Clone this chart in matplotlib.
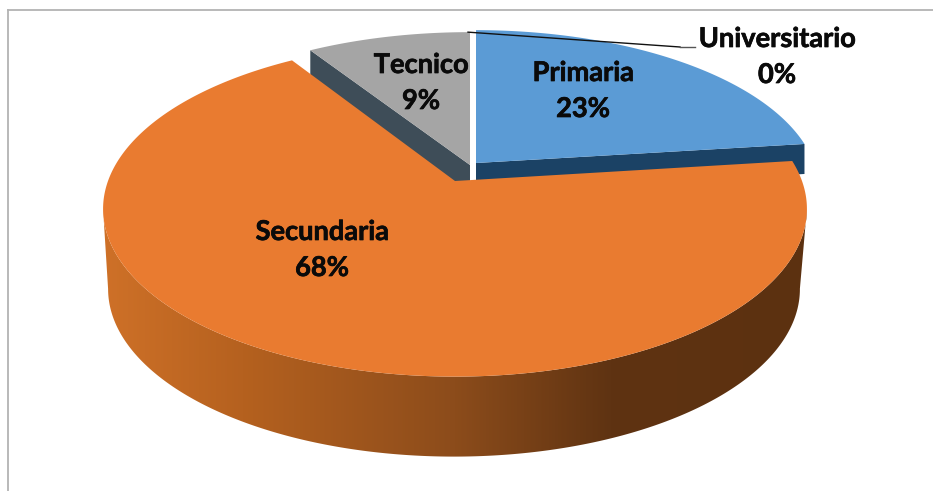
import numpy as np
import matplotlib
matplotlib.use("Agg")
import matplotlib.pyplot as plt
import matplotlib.patheffects as pe
from matplotlib.patches import Polygon
from matplotlib.colors import LinearSegmentedColormap

categories = ["Primaria", "Secundaria", "Tecnico", "Universitario"]
values = [23, 68, 9, 0]
percent_labels = [f"{v}%" for v in values]
colors = ["#5b9bd5", "#e97b30", "#a5a5a5", "#4472c4"]
cut_colors = ["#1b4265", "#6b3a14", "#3e4d58", "#1b4265"]

# projected geometry of each exploded slice: apex x, apex y, x radius, y radius
slice_geom = [(476, 163, 338, 155), (455, 181, 347, 163), (470, 165, 340, 155), (470, 165, 340, 155)]
PERSP = 1 / 6
DEPTH = 80

plt.rcParams["font.family"] = ["Lato", "DejaVu Sans"]
fig = plt.figure(figsize=(9.33, 4.91), dpi=100)
ax = fig.add_axes([0, 0, 1, 1])
ax.set_axis_off()


def rim(theta, geom):
    x0, y0, a, b = geom
    X, Y = np.sin(theta), np.cos(theta)
    d = 1 + PERSP * Y
    return x0 + a * X / d, y0 - b * Y / d


fr = np.cumsum([0] + values) / sum(values) * 2 * np.pi
spans = list(zip(fr[:-1], fr[1:]))

# outer frame of the chart area
ax.plot([8, 8], [491, 10], color="#b3b3b3", lw=1.3, zorder=1)
ax.plot([8, 933], [10, 10], color="#b3b3b3", lw=1.3, zorder=1)


def cut_face(i, theta, depth, z):
    g = slice_geom[i]
    rx, ry = rim(theta, g)
    ax.add_patch(Polygon([(g[0], g[1]), (rx, ry), (rx, ry + depth), (g[0], g[1] + depth)],
                         closed=True, fc=cut_colors[i], ec="none", zorder=z))


# hidden cut faces at the back
cut_face(0, spans[0][1], 30, 2)
cut_face(2, spans[2][0], 30, 2)

# top faces of Primaria and Tecnico
for i in (0, 2):
    t = np.linspace(spans[i][0], spans[i][1], 200)
    x, y = rim(t, slice_geom[i])
    ax.add_patch(Polygon(np.r_[[[slice_geom[i][0], slice_geom[i][1]]], np.c_[x, y]],
                         closed=True, fc=colors[i], ec="none", zorder=3))

# outer wall of Secundaria, shaded from left to right
g = slice_geom[1]
t = np.linspace(spans[1][0], spans[1][1], 500)
tx, ty = rim(t, g)
bx = g[0] - 1 + (tx - g[0]) * 345 / 351
by = ty + DEPTH
ir, il = np.argmax(bx), np.argmin(bx)
jr, jl = np.argmax(tx), np.argmin(tx)
wall = np.r_[np.c_[tx[jr:jl + 1], ty[jr:jl + 1]],
             np.c_[bx[ir:il + 1], by[ir:il + 1]][::-1]]
wall_patch = Polygon(wall, closed=True, fc="none", ec="none", transform=ax.transData)
ax.add_patch(wall_patch)
shade = LinearSegmentedColormap.from_list(
    "wall", [(0, "#cf7128"), (0.2, "#b5611f"), (0.5, "#8c4c1b"), (0.72, "#5f3312"), (1, "#5c3110")])
im = ax.imshow(np.linspace(0, 1, 256)[None, :], extent=(100, 810, 470, 190), aspect="auto",
               cmap=shade, zorder=4)
im.set_clip_path(wall_patch)

# top face of Secundaria
ax.add_patch(Polygon(np.r_[[[g[0], g[1]]], np.c_[tx, ty]], closed=True,
                     fc=colors[1], ec="none", zorder=5))

# value labels
label_pos = [(583, 73), (322, 232), (421, 65), (777, 39)]
stroke = [pe.withStroke(linewidth=0.5, foreground="#0a0a0a")]
for name, pct, (lx, ly) in zip(categories, percent_labels, label_pos):
    for s, yy in ((name, ly), (pct, ly + 36)):
        ax.text(lx, yy, s, ha="center", va="center", fontsize=19.6, fontweight="bold",
                color="#0a0a0a", zorder=8, path_effects=stroke)

# leader line of the empty slice
sx, sy = rim(fr[-1], slice_geom[3])
ax.plot([sx - 2, 680], [sy, 47], color="#111111", lw=1.0, zorder=7)
ax.plot([680, 695], [47, 47], color="#555555", lw=1.0, zorder=7)

ax.set_xlim(0, 933)
ax.set_ylim(491, 0)
fig.savefig("out.png", dpi=100, facecolor="white")
